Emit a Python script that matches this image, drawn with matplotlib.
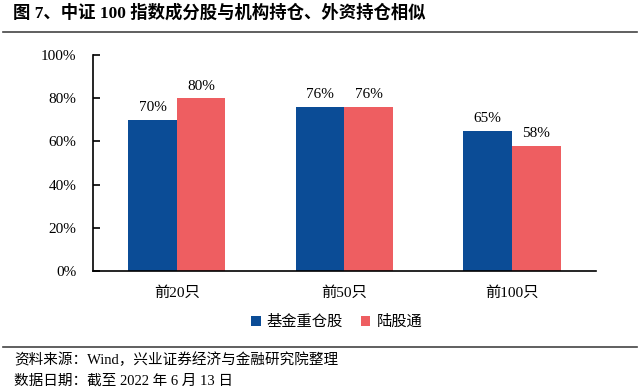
import matplotlib.pyplot as plt
import numpy as np
from matplotlib.lines import Line2D

plt.rcParams['font.family'] = ['Liberation Serif', 'Noto Sans CJK SC']

categories = ["前20只", "前50只", "前100只"]
fund = [70, 76, 65]
north = [80, 76, 58]
series_names = ["基金重仓股", "陆股通"]
blue = "#0B4C96"
red = "#EE5E61"

fig = plt.figure(figsize=(6.4, 3.92), dpi=100)
ax = fig.add_axes([0.1453, 0.3087, 0.7857, 0.551])

x = np.arange(len(categories))
w = 0.29
b1 = ax.bar(x - w / 2, fund, w, color=blue, label=series_names[0])
b2 = ax.bar(x + w / 2, north, w, color=red, label=series_names[1])
for bars in (b1, b2):
    for r in bars:
        ax.text(r.get_x() + r.get_width() / 2, r.get_height() + 2.5,
                "%d%%" % r.get_height(), ha="center", va="bottom", fontsize=11)

ax.set_xlim(-0.5, 2.5)
ax.set_ylim(0, 100)
ax.set_yticks(range(0, 101, 20))
ax.set_yticklabels(["%d%%" % v for v in range(0, 101, 20)], fontsize=11)
ax.set_xticks(x)
ax.set_xticklabels(categories, fontsize=11)
ax.tick_params(axis="x", length=0, pad=11)
ax.tick_params(axis="y", direction="in", length=5, width=1.2, pad=12)
for s in ("top", "right"):
    ax.spines[s].set_visible(False)
ax.spines["left"].set_linewidth(1.2)
ax.spines["bottom"].set_linewidth(1.2)

ax.legend(loc="center", bbox_to_anchor=(0.485, -0.235), ncol=2, frameon=False,
          handlelength=0.6, handleheight=0.6, handletextpad=0.4, columnspacing=1.2,
          prop={"family": ["Noto Sans CJK SC"], "size": 11})

fig.text(0.02, 0.968, "图 7、中证 100 指数成分股与机构持仓、外资持仓相似",
         fontsize=12.5, fontweight="bold", va="center",
         family=["Liberation Serif", "Noto Sans CJK SC"])
fig.add_artist(Line2D([0.005, 0.995], [0.918, 0.918], color="#444444", lw=1.2))
fig.add_artist(Line2D([0.005, 0.995], [0.115, 0.115], color="#444444", lw=1.2))
fig.text(0.022, 0.082, "资料来源：Wind，兴业证券经济与金融研究院整理", fontsize=10.5, va="center",
         family=["Liberation Serif", "Noto Sans CJK SC"])
fig.text(0.022, 0.028, "数据日期：截至 2022 年 6 月 13 日", fontsize=10.5, va="center",
         family=["Liberation Serif", "Noto Sans CJK SC"])

fig.savefig("out.png", dpi=100)
